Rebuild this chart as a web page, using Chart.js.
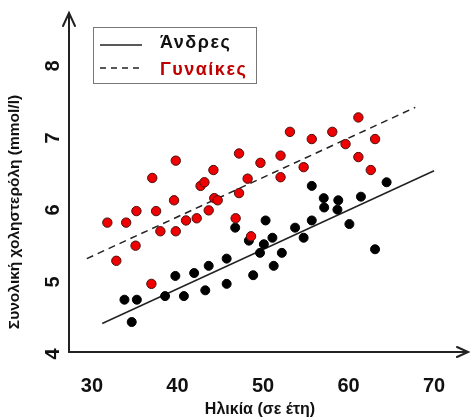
<!DOCTYPE html>
<html>
<head>
<meta charset="utf-8">
<script src="https://cdn.jsdelivr.net/npm/chart.js@4"></script>
<style>
  html, body { margin: 0; padding: 0; background: #fff; overflow: hidden; }
  #wrap { width: 470px; height: 419px; position: relative; }
  #chart { display: block; }
</style>
</head>
<body>
<div id="wrap"><canvas id="chart"></canvas></div>
<script>
// ===== DATA =====
const xTicks = [30, 40, 50, 60, 70];
const yTicks = [4, 5, 6, 7, 8];

const womenAge  = [31.8, 32.85, 34.0, 35.1, 35.2, 36.95, 37.05, 37.5, 38.0, 39.6, 39.8, 39.8, 41.0, 42.25, 42.7, 43.15, 43.65, 44.2, 44.3, 44.7, 46.8, 47.2, 47.2, 48.2, 48.6, 49.7, 52.05, 52.05, 53.15, 54.75, 55.7, 58.1, 59.65, 61.15, 61.15, 62.6, 63.1];
const womenChol = [5.81, 5.28, 5.81, 5.49, 5.97, 4.96, 6.43, 5.97, 5.69, 6.12, 6.67, 5.69, 5.84, 5.87, 6.32, 6.37, 5.98, 6.54, 6.15, 6.12, 5.87, 6.77, 6.22, 6.42, 5.62, 6.64, 6.74, 6.44, 7.07, 6.58, 6.97, 7.07, 6.9, 7.27, 6.72, 6.54, 6.97];

const menAge  = [33.8, 34.65, 35.25, 38.55, 39.75, 40.75, 41.95, 43.25, 43.65, 45.75, 45.75, 46.75, 48.35, 48.85, 49.65, 50.1, 50.3, 51.1, 51.25, 52.2, 53.75, 54.75, 55.7, 55.7, 57.1, 57.15, 58.7, 58.8, 60.1, 61.45, 63.1, 64.45];
const menChol = [4.74, 4.43, 4.74, 4.79, 5.07, 4.79, 5.11, 4.87, 5.21, 5.31, 4.96, 5.74, 5.56, 5.08, 5.39, 5.51, 5.84, 5.6, 5.21, 5.39, 5.74, 5.6, 5.84, 6.32, 6.15, 6.02, 5.99, 6.12, 5.79, 6.17, 5.44, 6.37];

// fitted lines (end points)
const menLineX   = [31.2, 70.0];
const menLineY   = [4.41, 6.53];
const womenLineX = [29.4, 67.8];
const womenLineY = [5.31, 7.41];

const xTitle = 'Ηλικία (σε έτη)';
const yTitle = 'Συνολική χοληστερόλη (mmol/l)';
const legendLabels = ['Άνδρες', 'Γυναίκες'];

// ===== HELPERS =====
const FONT = '"Liberation Sans", Arial, sans-serif';

function toPoints(xs, ys) {
    return xs.map((x, i) => ({ x: x, y: ys[i] }));
}

// axes, arrows, tick labels, titles and legend drawn in R style
const rAxesPlugin = {
    id: 'rAxes',
    afterDraw(chart) {
        const ctx = chart.ctx;
        const xs = chart.scales.x;
        const ys = chart.scales.y;
        const area = chart.chartArea;
        const x0 = xs.getPixelForValue(xs.min) + 1;
        const y0 = ys.getPixelForValue(4) - 1;

        ctx.save();
        ctx.strokeStyle = '#222';
        ctx.lineWidth = 2;
        ctx.lineCap = 'round';

        // y axis with arrow
        ctx.beginPath();
        ctx.moveTo(x0, y0);
        ctx.lineTo(x0, area.top);
        ctx.moveTo(x0 - 6, area.top + 13);
        ctx.lineTo(x0, area.top);
        ctx.lineTo(x0 + 6, area.top + 13);
        ctx.stroke();

        // x axis with arrow
        ctx.beginPath();
        ctx.moveTo(x0, y0);
        ctx.lineTo(area.right - 2, y0);
        ctx.moveTo(area.right - 13, y0 - 5);
        ctx.lineTo(area.right - 2, y0);
        ctx.lineTo(area.right - 13, y0 + 5);
        ctx.stroke();

        // tick labels
        ctx.fillStyle = '#111';
        ctx.font = 'bold 20px ' + FONT;
        ctx.textAlign = 'center';
        ctx.textBaseline = 'middle';
        xTicks.forEach(t => {
            ctx.fillText(String(t), xs.getPixelForValue(t), 386);
        });
        yTicks.forEach(t => {
            ctx.save();
            ctx.translate(53, ys.getPixelForValue(t) + 1);
            ctx.rotate(-Math.PI / 2);
            ctx.fillText(String(t), 0, 0);
            ctx.restore();
        });

        // axis titles
        ctx.font = 'bold 16px ' + FONT;
        ctx.fillText(xTitle, 260, 410);
        ctx.save();
        ctx.translate(15, 212);
        ctx.rotate(-Math.PI / 2);
        ctx.font = 'bold 15.5px ' + FONT;
        ctx.fillText(yTitle, 0, 0);
        ctx.restore();

        // legend box
        ctx.lineWidth = 1;
        ctx.strokeStyle = '#777';
        ctx.strokeRect(93.5, 27.5, 163, 56);

        ctx.strokeStyle = '#222';
        ctx.lineWidth = 1.5;
        ctx.lineCap = 'butt';
        ctx.beginPath();
        ctx.moveTo(100, 45);
        ctx.lineTo(142, 45);
        ctx.stroke();
        ctx.setLineDash([6, 5]);
        ctx.beginPath();
        ctx.moveTo(100, 68);
        ctx.lineTo(142, 68);
        ctx.stroke();
        ctx.setLineDash([]);

        ctx.font = 'bold 18px ' + FONT;
        ctx.letterSpacing = '1.5px';
        ctx.textAlign = 'left';
        ctx.textBaseline = 'alphabetic';
        ctx.fillStyle = '#111';
        ctx.fillText(legendLabels[0], 160, 48);
        ctx.fillStyle = '#c00000';
        ctx.fillText(legendLabels[1], 160, 75);
        ctx.restore();
    }
};

// ===== CHART =====
document.addEventListener('DOMContentLoaded', function() {
    const ctx = document.getElementById('chart').getContext('2d');

    new Chart(ctx, {
        type: 'scatter',
        data: {
            datasets: [
                {
                    label: 'Γυναίκες',
                    data: toPoints(womenAge, womenChol),
                    backgroundColor: '#ee0000',
                    borderColor: '#4a1010',
                    borderWidth: 1,
                    pointRadius: 4.7
                },
                {
                    label: 'Άνδρες',
                    data: toPoints(menAge, menChol),
                    backgroundColor: '#000',
                    borderColor: '#000',
                    borderWidth: 1,
                    pointRadius: 4.5
                },
                {
                    type: 'line',
                    label: 'fit-men',
                    data: toPoints(menLineX, menLineY),
                    borderColor: '#222',
                    borderWidth: 1.5,
                    pointRadius: 0,
                    fill: false
                },
                {
                    type: 'line',
                    label: 'fit-women',
                    data: toPoints(womenLineX, womenLineY),
                    borderColor: '#222',
                    borderWidth: 1.5,
                    borderDash: [7, 5],
                    pointRadius: 0,
                    fill: false
                }
            ]
        },
        options: {
            responsive: true,
            maintainAspectRatio: false,
            animation: false,
            layout: {
                autoPadding: false,
                padding: { left: 68, right: 0, top: 13, bottom: 66 }
            },
            plugins: {
                legend: { display: false },
                tooltip: { enabled: false }
            },
            scales: {
                x: {
                    type: 'linear',
                    min: 27.2,
                    max: 74.2,
                    display: false
                },
                y: {
                    type: 'linear',
                    min: 4.0,
                    max: 8.72,
                    display: false
                }
            }
        },
        plugins: [rAxesPlugin]
    });
});
</script>
</body>
</html>
